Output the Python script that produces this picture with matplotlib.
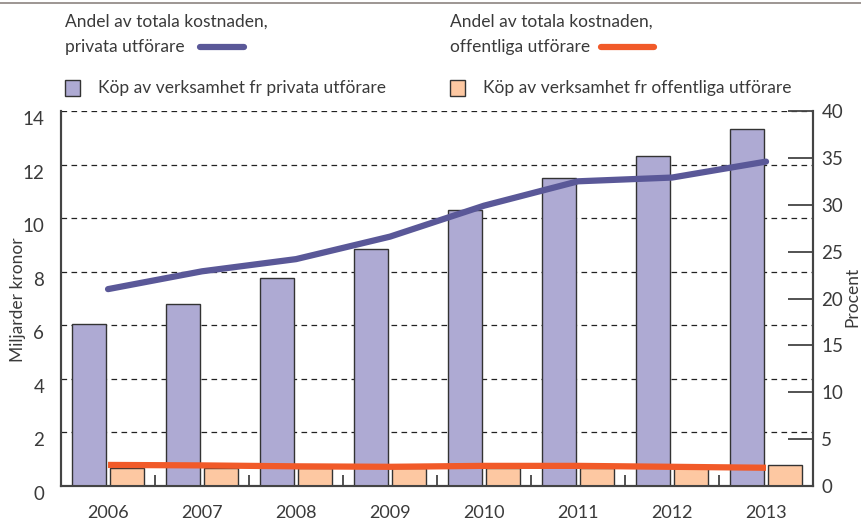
import matplotlib
matplotlib.use("Agg")
import matplotlib.pyplot as plt
import matplotlib.transforms as mtransforms
import numpy as np
from matplotlib.lines import Line2D
from matplotlib.patches import Rectangle

years = ["2006", "2007", "2008", "2009", "2010", "2011", "2012", "2013"]
# Miljarder kronor
kop_privata = [6.03, 6.79, 7.75, 8.86, 10.30, 11.50, 12.32, 13.31]
kop_offentliga = [0.66, 0.66, 0.66, 0.66, 0.66, 0.66, 0.66, 0.77]
# Procent
andel_privata = [21.0, 22.9, 24.2, 26.6, 29.9, 32.5, 32.9, 34.6]
andel_offentliga = [2.25, 2.2, 2.1, 2.05, 2.15, 2.15, 2.05, 1.95]

C_PRIV_BAR = "#aeaad3"
C_OFF_BAR = "#fdc8a2"
C_PRIV_LINE = "#5a5898"
C_OFF_LINE = "#f15a29"
C_AXIS = "#444444"
C_TEXT = "#3a3a3a"

plt.rcParams["font.family"] = ["Lato", "DejaVu Sans"]

fig = plt.figure(figsize=(8.62, 5.23), dpi=100)
ax = fig.add_axes([0.0708, 0.0707, 0.8724, 0.7171])
ax2 = ax.twinx()

x = np.arange(len(years))
w = 0.36
ax.bar(x - 0.2, kop_privata, w, color=C_PRIV_BAR, edgecolor="#333333", linewidth=1.0, zorder=3)
ax.bar(x + 0.2, kop_offentliga, w, color=C_OFF_BAR, edgecolor="#333333", linewidth=1.0, zorder=3)

ax.set_xlim(-0.5, len(years) - 0.5)
ax.set_ylim(0, 14)
ax.set_yticks(range(0, 15, 2))
for v in range(2, 15, 2):
    ax.axhline(v, color="#222222", linewidth=0.9, linestyle=(0, (4.5, 3.5)), zorder=1)

# group boundary ticks
ax.set_xticks(np.arange(0.5, len(years) - 1, 1))
ax.set_xticklabels([])
ax.tick_params(axis="x", direction="in", length=8, width=1.3, color=C_AXIS)
ax.set_xticks(x, minor=True)
ax.set_xticklabels(years, minor=True)
ax.tick_params(axis="x", which="minor", length=0, pad=14, labelsize=13, labelcolor=C_TEXT)
ax.tick_params(axis="y", length=0, pad=12, labelsize=13.5, labelcolor=C_TEXT)
# left labels sit a little below their gridlines in the original
shift = mtransforms.ScaledTranslation(0, -7 / 100, fig.dpi_scale_trans)
for lab in ax.get_yticklabels():
    lab.set_transform(lab.get_transform() + shift)

ax2.plot(x, andel_privata, color=C_PRIV_LINE, linewidth=4.5, solid_capstyle="round", zorder=5)
ax2.plot(x, andel_offentliga, color=C_OFF_LINE, linewidth=4.5, solid_capstyle="butt", zorder=5)
ax2.set_ylim(0, 40)
ax2.set_yticks(range(0, 41, 5))
ax2.tick_params(axis="y", direction="in", length=18, width=1.3, color=C_AXIS,
                pad=6, labelsize=13.5, labelcolor=C_TEXT)
ax.set_zorder(1)
ax2.set_zorder(2)
ax2.patch.set_visible(False)

for a in (ax, ax2):
    a.spines["top"].set_visible(False)
    for s in ("left", "right", "bottom"):
        a.spines[s].set_color(C_AXIS)
        a.spines[s].set_linewidth(1.5)


def fx(px):
    return px / 862


def fy(py):
    return 1 - py / 523


# axis titles
fig.text(fx(18), fy(300), "Miljarder kronor", rotation=90, fontsize=12.5, color=C_TEXT,
         ha="center", va="center")
fig.text(fx(852), fy(297), "Procent", rotation=90, fontsize=12.5, color=C_TEXT,
         ha="center", va="center")

# top rule
fig.add_artist(Line2D([0, 1], [fy(3), fy(3)], color="#8c8480", linewidth=1.2))

# legend
fs = 12.5
fig.text(fx(65), fy(22), "Andel av totala kostnaden,", fontsize=fs, color=C_TEXT, va="center")
fig.text(fx(65), fy(47), "privata utförare", fontsize=fs, color=C_TEXT, va="center")
fig.add_artist(Line2D([fx(200), fx(244)], [fy(47), fy(47)], color=C_PRIV_LINE, linewidth=4.5,
                      solid_capstyle="round"))
fig.text(fx(450), fy(22), "Andel av totala kostnaden,", fontsize=fs, color=C_TEXT, va="center")
fig.text(fx(450), fy(47), "offentliga utförare", fontsize=fs, color=C_TEXT, va="center")
fig.add_artist(Line2D([fx(601), fx(654)], [fy(47), fy(47)], color=C_OFF_LINE, linewidth=4.5,
                      solid_capstyle="round"))

for px, color, label in [(65, C_PRIV_BAR, "Köp av verksamhet fr privata utförare"),
                         (450, C_OFF_BAR, "Köp av verksamhet fr offentliga utförare")]:
    fig.add_artist(Rectangle((fx(px), fy(96)), fx(15), 16 / 523, facecolor=color,
                             edgecolor="#333333", linewidth=1.0))
    fig.text(fx(px + 33), fy(88), label, fontsize=fs, color=C_TEXT, va="center")

fig.savefig("out.png", dpi=100)
